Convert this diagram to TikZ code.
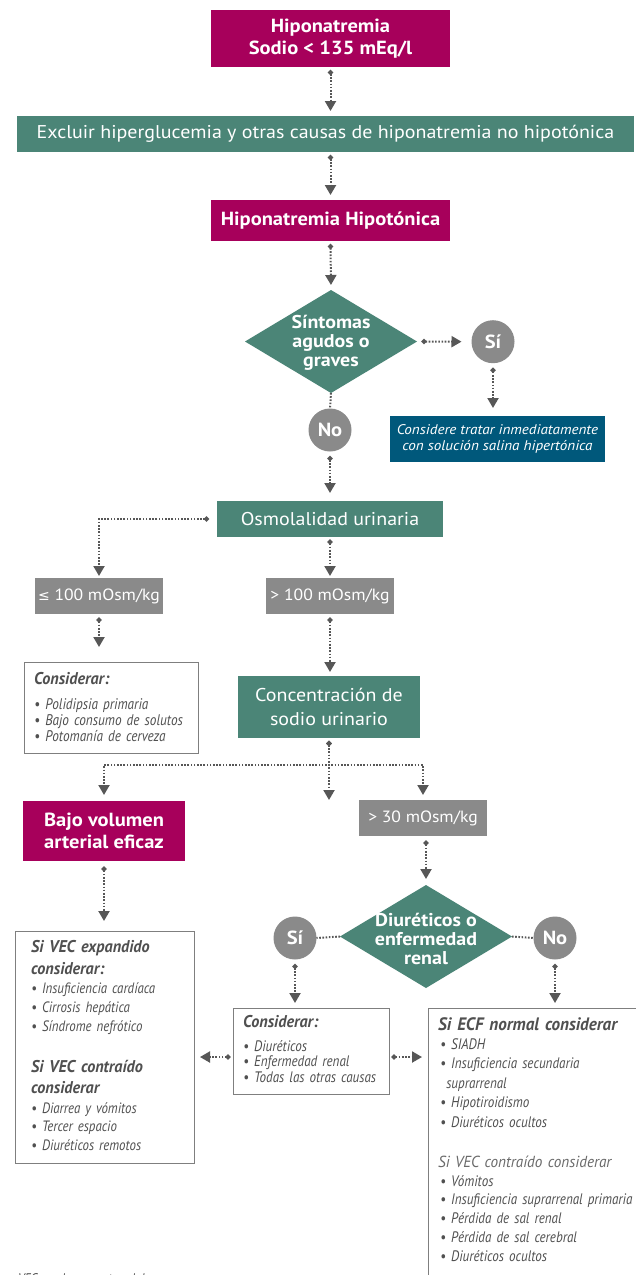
\documentclass[tikz,border=0pt]{standalone}
\usepackage{fontspec}
\setmainfont{PT Sans}
\newfontfamily\boxfont{PT Sans}[FakeStretch=1.08]
\newfontfamily\listfont{PT Sans}[FakeStretch=0.86]
\newfontfamily\titlefont{PT Sans}[FakeStretch=0.95]
\newfontfamily\symfont{DejaVu Sans}
\usetikzlibrary{arrows.meta,shapes.geometric,calc}
\definecolor{mag}{HTML}{A7005B}
\definecolor{grn}{HTML}{4B8577}
\definecolor{gbox}{HTML}{8A8A8A}
\definecolor{circg}{HTML}{8A8A8A}
\definecolor{blu}{HTML}{00587B}
\definecolor{arr}{HTML}{575757}
\definecolor{txt}{HTML}{505050}
\definecolor{txtl}{HTML}{6A6A6A}
\definecolor{frm}{HTML}{7F7F7F}
\tikzset{
  bx/.style={inner sep=0pt, outer sep=0pt, align=center, text=white},
  magbox/.style={bx, fill=mag, font=\boxfont\bfseries\fontsize{19}{22}\selectfont},
  grnbox/.style={bx, fill=grn, font=\boxfont\fontsize{18.5}{24}\selectfont},
  graybox/.style={bx, fill=gbox, font=\boxfont\fontsize{16.3}{20}\selectfont},
  bluebox/.style={bx, fill=blu, font=\boxfont\itshape\fontsize{14}{15.5}\selectfont},
  yesno/.style={circle, bx, fill=circg, minimum size=43, font=\boxfont\bfseries\fontsize{19}{20}\selectfont},
  dia/.style={diamond, bx, fill=grn, minimum width=172, minimum height=103},
  diatext/.style={bx, font=\boxfont\bfseries\fontsize{18.5}{19}\selectfont},
  listframe/.style={draw=frm, line width=1pt, fill=white, inner sep=0pt, outer sep=0pt},
  ltitle/.style={inner sep=0pt, anchor=base west, text=txt, font=\titlefont\bfseries\itshape\fontsize{17}{22}\selectfont, text width=195, align=left},
  litem/.style={inner sep=0pt, anchor=base west, text=txt, font=\listfont\itshape\fontsize{15}{19}\selectfont, text width=205, align=left},
  dline/.style={draw=arr, line width=2pt, dash pattern=on 1.6pt off 1.6pt},
  dconn/.style={dline, {Circle[length=5pt]}-{Triangle[width=11pt,length=10pt]}, shorten <=3pt, shorten >=5pt},
}
\begin{document}
\begin{tikzpicture}[x=1pt,y=-1pt]
\useasboundingbox (0,0) rectangle (635,1275);
\fill[white] (0,0) rectangle (635,1275);
% main column
\node[magbox, minimum width=239, minimum height=57] (n1) at (330.5,38.5) {Hiponatremia\\Sodio < 135 mEq/l};
\node[grnbox, minimum width=617, minimum height=36] (n2) at (325.5,134) {Excluir hiperglucemia y otras causas de hiponatremia no hipotónica};
\node[magbox, minimum width=239, minimum height=41] (n3) at (330.5,220.5) {Hiponatremia Hipotónica};
\node[dia] (d1) at (331,341.5) {};
\node[diatext] (d1t) at (331,343) {Síntomas\\agudos o\\graves};
\node[yesno] (si1) at (493,341.7) {Sí};
\node[bluebox, minimum width=215, minimum height=46] (blu) at (497.5,439) {Considere tratar inmediatamente\\con solución salina hipertónica};
\node[yesno] (no1) at (330,430) {No};
\node[grnbox, minimum width=226, minimum height=36] (osm) at (330,519) {Osmolalidad urinaria};
\node[graybox, minimum width=128, minimum height=36] (le100) at (99,596) {{\symfont\fontsize{14}{20}\selectfont ≤} 100 mOsm/kg};
\node[graybox, minimum width=128, minimum height=36] (gt100) at (330,596) {> 100 mOsm/kg};
\node[listframe, minimum width=174, minimum height=91] (c1) at (111,707.5) {};
\node[ltitle] (c1t) at (34,684) {Considerar:};
\node[litem, font=\listfont\itshape\fontsize{15.4}{16}\selectfont] (c1i) at (34,709) {• Polidipsia primaria\\• Bajo consumo de solutos\\• Potomanía de cerveza};
\node[grnbox, minimum width=182, minimum height=62] (conc) at (329,707) {Concentración de\\sodio urinario};
\coordinate (j) at (329,765);
\coordinate (mid) at (329,800);
\node[magbox, minimum width=162, minimum height=60] (bajo) at (104,831) {Bajo volumen\\arterial eficaz};
\node[graybox, minimum width=128, minimum height=36] (gt30) at (423,818) {> 30 mOsm/kg};
\node[dia] (d2) at (426,936.5) {};
\node[diatext] (d2t) at (426,939) {Diuréticos o\\enfermedad\\renal};
\node[yesno] (si2) at (295,938) {Sí};
\node[yesno] (no2) at (555,938) {No};
% left list box
\node[listframe, minimum width=179, minimum height=232] (lbox) at (104.5,1047) {};
\node[ltitle] (lt1) at (31,952) {Si VEC expandido\\considerar:};
\node[litem] (li1) at (31,993) {• Insuficiencia cardíaca\\• Cirrosis hepática\\• Síndrome nefrótico};
\node[ltitle, font=\titlefont\bfseries\itshape\fontsize{17}{21}\selectfont] (lt2) at (31,1072) {Si VEC contraído\\considerar};
\node[litem, font=\listfont\itshape\fontsize{15}{18.5}\selectfont] (li2) at (31,1113) {• Diarrea y vómitos\\• Tercer espacio\\• Diuréticos remotos};
% middle list box
\node[listframe, minimum width=156, minimum height=86] (c2) at (311,1051) {};
\node[ltitle] (c2t) at (243,1027) {Considerar:};
\node[litem, font=\listfont\itshape\fontsize{15.2}{15.5}\selectfont] (c2i) at (243,1051) {• Diuréticos\\• Enfermedad renal\\• Todas las otras causas};
% right list box
\node[listframe, minimum width=220, minimum height=290] (rbox) at (538,1153) {};
\node[ltitle, font=\titlefont\bfseries\itshape\fontsize{18}{22}\selectfont] (rt1) at (438,1030) {Si ECF normal considerar};
\node[litem, font=\listfont\itshape\fontsize{15.2}{19.5}\selectfont] (ri1) at (440,1049) {• SIADH\\• Insuficiencia secundaria\\\hspace*{0.4em}suprarrenal\\• Hipotiroidismo\\• Diuréticos ocultos};
\node[litem, text=txtl, font=\titlefont\itshape\fontsize{16}{19}\selectfont] (rt2) at (438,1167) {Si VEC contraído considerar};
\node[litem, font=\listfont\itshape\fontsize{15.2}{18.75}\selectfont] (ri2) at (440,1186) {• Vómitos\\• Insuficiencia suprarrenal primaria\\• Pérdida de sal renal\\• Pérdida de sal cerebral\\• Diuréticos ocultos};
\node[litem, font=\listfont\itshape\fontsize{14}{15}\selectfont] (foot) at (18,1283) {VEC - volumen extracelular};
% connectors
\draw[dconn] (n1.south) -- (n1.south |- n2.north);
\draw[dconn] (n3.north |- n2.south) -- (n3.north);
\draw[dconn] (n3.south) -- (d1.north);
\draw[dconn, shorten <=4.5pt, shorten >=10pt] (d1.east) -- (si1.west);
\draw[dconn, shorten <=4.5pt, shorten >=8pt] (si1.south) -- (si1.south |- blu.north);
\draw[dline] (d1.south) -- (no1.north);
\draw[dconn, shorten <=4.5pt, shorten >=8pt] (no1.south) -- (no1.south |- osm.north);
\draw[dconn, shorten <=8pt, shorten >=2pt] (osm.west) -| (le100.north);
\draw[dconn, shorten <=2.5pt, shorten >=2pt] (osm.south) -- (gt100.north);
\draw[dconn, shorten <=3.5pt, shorten >=15pt] (le100.south) -- (le100.south |- c1.north);
\draw[dconn, shorten <=3.5pt, shorten >=4pt] (gt100.south) -- (gt100.south |- conc.north);
\draw[dconn, shorten >=6pt] (conc.south) -- (j) -| (bajo.north);
\draw[dconn, shorten >=5pt] (conc.south) -- (j) -| (gt30.north);
\draw[dconn, shorten >=0pt] (conc.south) -- (mid);
\draw[dconn, shorten <=5.5pt, shorten >=10pt] (bajo.south) -- (bajo.south |- lbox.north);
\draw[dconn, shorten <=4.5pt, shorten >=6pt] (d2.north |- gt30.south) -- (d2.north);
\draw[dline] (d2.west) -- (si2.east);
\draw[dline] (d2.east) -- (no2.west);
\draw[dconn, shorten <=4.5pt, shorten >=5pt] (si2.south) -- (si2.south |- c2.north);
\draw[dconn, shorten <=4.5pt, shorten >=5pt] (no2.south) -- (no2.south |- rbox.north);
\draw[dconn, shorten <=2.5pt, shorten >=6pt] ($(c2.west)+(0,6)$) -- ($(c2.west -| lbox.east)+(0,6)$);
\draw[dconn, shorten <=2.5pt, shorten >=6pt] ($(c2.east)+(0,6)$) -- ($(c2.east -| rbox.west)+(0,6)$);
\end{tikzpicture}
\end{document}
